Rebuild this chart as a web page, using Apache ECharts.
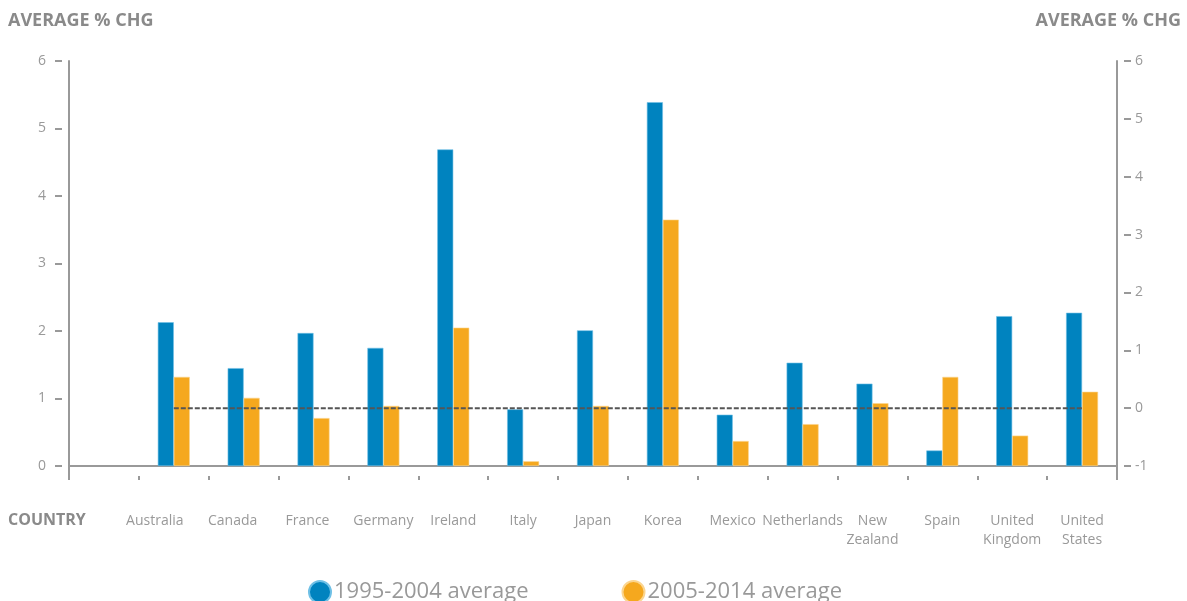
<!DOCTYPE html>
<html>
<head>
<meta charset="utf-8">
<script src="https://cdn.jsdelivr.net/npm/echarts@6/dist/echarts.min.js"></script>
<style>
html,body{margin:0;padding:0;background:#fff;}
#chart{width:1187px;height:601px;}
</style>
</head>
<body>
<div id="chart"></div>
<script>
const categories = ['', 'Australia', 'Canada', 'France', 'Germany', 'Ireland', 'Italy', 'Japan', 'Korea', 'Mexico', 'Netherlands', 'New\nZealand', 'Spain', 'United\nKingdom', 'United\nStates'];
const avg1995_2004 = [null, 2.13, 1.45, 1.97, 1.75, 4.69, 0.84, 2.01, 5.39, 0.76, 1.53, 1.22, 0.23, 2.22, 2.27];
const avg2005_2014 = [null, 1.32, 1.01, 0.71, 0.89, 2.05, 0.07, 0.89, 3.65, 0.37, 0.62, 0.93, 1.32, 0.45, 1.10];
const zeroLine = [null, 0, 0, 0, 0, 0, 0, 0, 0, 0, 0, 0, 0, 0, 0];
const leftTicks = {min: 0, max: 6, interval: 1};
const rightTicks = {min: -1, max: 6, interval: 1};

const BLUE = '#0083BF';
const ORANGE = '#F5A81E';
const AXIS = '#999999';
const TEXT = '#999999';
const FONT = 'Open Sans';

// the first few country labels sit a little left of their band centre in the reference
const labelNudge = {Australia: 38, Canada: 22, France: 12};
const categoryItems = categories.map(function (c) {
  return labelNudge[c] ? {value: c, textStyle: {padding: [0, labelNudge[c], 0, 0]}} : c;
});

const chart = echarts.init(document.getElementById('chart'));
const option = {
  animation: false,
  textStyle: {fontFamily: FONT},
  title: [
    {text: 'AVERAGE % CHG', left: 3, top: 7, textStyle: {color: '#8a8a8a', fontSize: 18, fontWeight: 'bold', fontFamily: FONT}},
    {text: 'AVERAGE % CHG', right: 1, top: 7, textStyle: {color: '#8a8a8a', fontSize: 18, fontWeight: 'bold', fontFamily: FONT}},
    {text: 'COUNTRY', left: 3, top: 507, textStyle: {color: '#8a8a8a', fontSize: 16, fontWeight: 'bold', fontFamily: FONT}}
  ],
  legend: {
    left: 303, top: 575,
    icon: 'circle', itemWidth: 22, itemHeight: 22, itemGap: 93,
    textStyle: {color: TEXT, fontSize: 22, fontFamily: FONT, padding: [0, 0, 0, -2]},
    data: ['1995-2004 average', '2005-2014 average']
  },
  grid: {left: 69, right: 70, top: 61, bottom: 135, containLabel: false},
  xAxis: [
    {
      type: 'category', data: categoryItems, position: 'bottom',
      axisLine: {show: true, onZero: false, lineStyle: {color: AXIS, width: 2}},
      axisTick: {show: false},
      axisLabel: {color: TEXT, fontSize: 14, margin: 46, lineHeight: 19, interval: 0, fontFamily: FONT},
      splitLine: {show: false}
    },
    {
      type: 'category', data: categories, position: 'bottom', offset: 10,
      axisLine: {show: false, onZero: false},
      axisTick: {show: true, length: 4, interval: 0, lineStyle: {color: AXIS, width: 2}},
      axisLabel: {show: false}
    },
    {
      type: 'category', data: categories, position: 'bottom', offset: 0,
      axisLine: {show: false, onZero: false},
      axisTick: {show: true, length: 14, interval: function (i) { return i === 0; }, lineStyle: {color: AXIS, width: 2}},
      axisLabel: {show: false}
    }
  ],
  yAxis: [
    {
      type: 'value', position: 'left', offset: 7,
      min: leftTicks.min, max: leftTicks.max, interval: leftTicks.interval,
      axisLine: {show: false},
      axisTick: {show: true, length: 7, lineStyle: {color: AXIS, width: 2}},
      axisLabel: {color: TEXT, fontSize: 14, margin: 16, fontFamily: FONT},
      splitLine: {show: false}
    },
    {
      type: 'value', position: 'right', offset: 7,
      min: rightTicks.min, max: rightTicks.max, interval: rightTicks.interval,
      axisLine: {show: false},
      axisTick: {show: true, length: 7, lineStyle: {color: AXIS, width: 2}},
      axisLabel: {color: TEXT, fontSize: 14, margin: 11, fontFamily: FONT},
      splitLine: {show: false}
    },
    {
      type: 'value', position: 'left', offset: 0,
      min: leftTicks.min, max: leftTicks.max, interval: leftTicks.interval,
      axisLine: {show: true, lineStyle: {color: AXIS, width: 2}},
      axisTick: {show: false}, axisLabel: {show: false}, splitLine: {show: false}
    },
    {
      type: 'value', position: 'right', offset: 0,
      min: rightTicks.min, max: rightTicks.max, interval: rightTicks.interval,
      axisLine: {show: true, lineStyle: {color: AXIS, width: 2}},
      axisTick: {show: false}, axisLabel: {show: false}, splitLine: {show: false}
    }
  ],
  series: [
    {
      name: '1995-2004 average', type: 'bar', xAxisIndex: 0, yAxisIndex: 0,
      data: avg1995_2004, barWidth: 16, barGap: '0%',
      itemStyle: {color: BLUE, borderColor: '#6fc0e6', borderWidth: 0.6}
    },
    {
      name: '2005-2014 average', type: 'bar', xAxisIndex: 0, yAxisIndex: 0,
      data: avg2005_2014, barWidth: 16, barGap: '0%',
      itemStyle: {color: ORANGE, borderColor: '#fbd58f', borderWidth: 0.6}
    },
    {
      name: 'zero', type: 'line', xAxisIndex: 0, yAxisIndex: 1,
      data: zeroLine, symbol: 'none', silent: true,
      lineStyle: {color: '#555555', width: 2, type: [5, 2]},
      z: 5
    }
  ]
};
chart.setOption(option);
</script>
</body>
</html>
